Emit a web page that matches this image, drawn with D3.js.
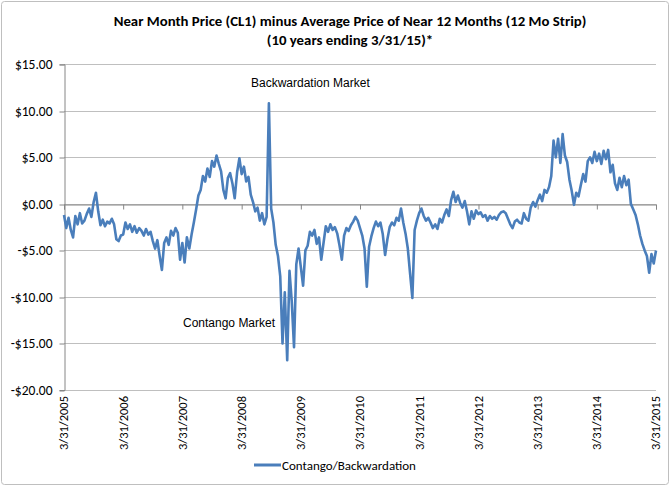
<!DOCTYPE html>
<html>
<head>
<meta charset="utf-8">
<script src="https://cdn.jsdelivr.net/npm/d3@7"></script>
<style>
  body { margin: 0; background: #fff; }
  svg { display: block; }
</style>
</head>
<body>
<svg id="chart"></svg>
<script>
const spread = [
  -1.2, -2.6, -1.5, -2.8, -3.6, -1.3, -2.2, -1.0, -2.1, -1.8, -1.1, -0.5, -1.4, 0.2, 1.2, -0.8, -2.3, -1.7, -2.4, -1.9, -2.1, -1.6, -2.2, -3.8, -4.0, -3.4,
  -3.3, -2.0, -2.7, -2.2, -3.0, -2.4, -3.1, -2.6, -2.9, -3.4, -2.7, -3.3, -3.0, -4.0, -4.8, -3.9, -5.6, -7.1, -4.2, -3.6, -4.4, -2.9, -3.4, -2.6, -3.1, -6.0,
  -4.2, -6.3, -3.6, -4.8, -3.3, -2.0, -0.6, 0.9, 1.5, 3.0, 2.4, 3.8, 2.9, 4.6, 4.0, 5.2, 4.3, 3.5, 1.5, 0.6, 2.8, 3.3, 2.2, 0.6, 3.4, 4.9,
  3.2, 4.0, 2.4, 2.9, 1.0, 0.2, -0.8, -0.4, -1.8, -1.0, -2.2, -1.4, 10.8, -0.5, -2.0, -4.4, -5.6, -7.8, -15.0, -9.5, -16.8, -7.2, -10.5, -15.4, -6.5, -4.8,
  -6.8, -8.8, -5.0, -4.5, -3.0, -3.4, -2.8, -4.3, -3.6, -6.0, -4.2, -2.4, -3.0, -2.2, -2.8, -2.5, -3.2, -4.5, -6.0, -3.4, -2.6, -2.9, -2.3, -1.9, -1.4, -1.8,
  -2.6, -3.4, -4.8, -8.9, -4.6, -3.5, -2.6, -1.9, -2.4, -2.0, -3.2, -5.5, -3.8, -2.5, -2.0, -2.3, -1.5, -1.8, -0.5, -2.0, -3.2, -4.8, -7.5, -10.1, -2.8, -1.8,
  -1.0, -0.5, -1.3, -1.8, -1.5, -2.0, -2.6, -2.2, -2.7, -1.6, -2.0, -1.2, -0.6, -1.3, 0.4, 1.3, 0.2, 0.9, 0.1, -0.4, 0.3, -0.8, -2.2, -0.8, -1.6, -0.7,
  -1.1, -0.9, -1.4, -1.2, -1.8, -1.3, -1.6, -1.4, -1.7, -1.2, -0.9, -0.8, -1.0, -1.6, -2.2, -2.6, -1.9, -1.7, -2.0, -2.1, -1.0, -1.6, -1.8, -0.4, 0.2, -0.3,
  0.4, 1.0, 0.3, 1.5, 1.2, 1.8, 3.0, 6.8, 5.0, 7.0, 4.4, 7.5, 5.2, 4.5, 2.6, 1.4, -0.1, 1.2, 0.8, 2.0, 3.2, 2.4, 4.6, 5.0, 4.4, 5.6,
  4.6, 5.4, 4.3, 5.7, 4.8, 5.8, 3.4, 4.2, 2.2, 1.5, 2.8, 1.8, 3.0, 2.0, 2.6, 0.0, -0.6, -1.2, -2.2, -3.4, -4.3, -5.0, -5.6, -7.4, -5.4, -6.4, -5.0
];

const xTickLabels = ["3/31/2005", "3/31/2006", "3/31/2007", "3/31/2008", "3/31/2009", "3/31/2010",
  "3/31/2011", "3/31/2012", "3/31/2013", "3/31/2014", "3/31/2015"];
const yTicks = [15, 10, 5, 0, -5, -10, -15, -20];
const titleLines = ["Near Month Price (CL1) minus Average Price of Near 12 Months (12 Mo Strip)",
  "(10 years ending 3/31/15)*"];
const seriesName = "Contango/Backwardation";

const width = 670;
const height = 486;
const blue = "#4a7ebb";
const grid = "#bfbfbf";
const uiFont = "Calibri, Carlito, Lato, sans-serif";

const parse = d3.timeParse("%m/%d/%Y");
const tickDates = xTickLabels.map(parse);
const start = tickDates[0];
const end = tickDates[tickDates.length - 1];
const span = d3.timeDay.count(start, end);
const dates = spread.map((_, i) => d3.timeDay.offset(start, Math.round(i * span / (spread.length - 1))));

const svg = d3.select("#chart")
  .attr("width", width)
  .attr("height", height);

svg.append("rect")
  .attr("x", 1.5).attr("y", 1.5)
  .attr("width", width - 3).attr("height", height - 3)
  .attr("rx", 3)
  .attr("fill", "#fff")
  .attr("stroke", "#bfbfbf");

const x = d3.scaleTime().domain([start, end]).range([64, 656]);
const y = d3.scaleLinear().domain([-20, 15]).range([390, 64.3]);

// title
svg.append("g").selectAll("text")
  .data(titleLines)
  .join("text")
  .attr("x", 350)
  .attr("y", (d, i) => 26 + i * 19)
  .attr("text-anchor", "middle")
  .attr("font-family", uiFont)
  .attr("font-weight", "bold")
  .attr("font-size", 14.8)
  .attr("fill", "#000")
  .text(d => d);

// gridlines
svg.append("g").selectAll("line")
  .data(yTicks)
  .join("line")
  .attr("x1", 64).attr("x2", 656)
  .attr("y1", d => Math.round(y(d)) + 0.5)
  .attr("y2", d => Math.round(y(d)) + 0.5)
  .attr("stroke", grid);

// y axis
const yAxis = svg.append("g")
  .attr("transform", "translate(64.5,0)")
  .call(d3.axisLeft(y)
    .tickValues(yTicks)
    .tickSize(5)
    .tickPadding(7)
    .tickFormat(d => (d < 0 ? "-$" : "$") + Math.abs(d).toFixed(2)));
yAxis.selectAll(".tick line").attr("stroke", "#868686").attr("transform", d => `translate(0,${Math.round(y(d)) + 0.5 - y(d)})`);
yAxis.select(".domain").attr("stroke", "#868686");
yAxis.selectAll("text")
  .attr("font-family", uiFont)
  .attr("font-size", 13.5)
  .attr("fill", "#000");

// category axis crosses at zero, labels sit at the bottom
const zeroY = Math.round(y(0)) + 0.5;
const xAxis = svg.append("g")
  .attr("transform", `translate(0,${zeroY})`)
  .call(d3.axisBottom(x).tickValues(tickDates).tickSize(5).tickFormat(""));
xAxis.selectAll(".tick line").attr("stroke", "#868686");
xAxis.select(".domain").attr("stroke", "#868686");

svg.append("g").selectAll("text")
  .data(tickDates)
  .join("text")
  .attr("transform", d => `translate(${x(d)},396) rotate(-90)`)
  .attr("text-anchor", "end")
  .attr("dy", "0.35em")
  .attr("font-family", uiFont)
  .attr("font-size", 12.5)
  .attr("fill", "#000")
  .text((d, i) => xTickLabels[i]);

// series
const line = d3.line()
  .x((d, i) => x(dates[i]))
  .y(d => y(d));

svg.append("path")
  .datum(spread)
  .attr("d", line)
  .attr("fill", "none")
  .attr("stroke", blue)
  .attr("stroke-width", 2.6)
  .attr("stroke-linejoin", "round");

// annotations
svg.append("text")
  .attr("x", 251).attr("y", 87)
  .attr("font-family", "Liberation Sans, Arial, sans-serif")
  .attr("font-size", 12)
  .text("Backwardation Market");

svg.append("text")
  .attr("x", 183).attr("y", 327)
  .attr("font-family", "Liberation Sans, Arial, sans-serif")
  .attr("font-size", 12)
  .text("Contango Market");

// legend
svg.append("line")
  .attr("x1", 254).attr("x2", 281)
  .attr("y1", 465).attr("y2", 465)
  .attr("stroke", blue)
  .attr("stroke-width", 3);

svg.append("text")
  .attr("x", 282).attr("y", 465)
  .attr("dy", "0.35em")
  .attr("font-family", uiFont)
  .attr("font-size", 13)
  .text(seriesName);
</script>
</body>
</html>
